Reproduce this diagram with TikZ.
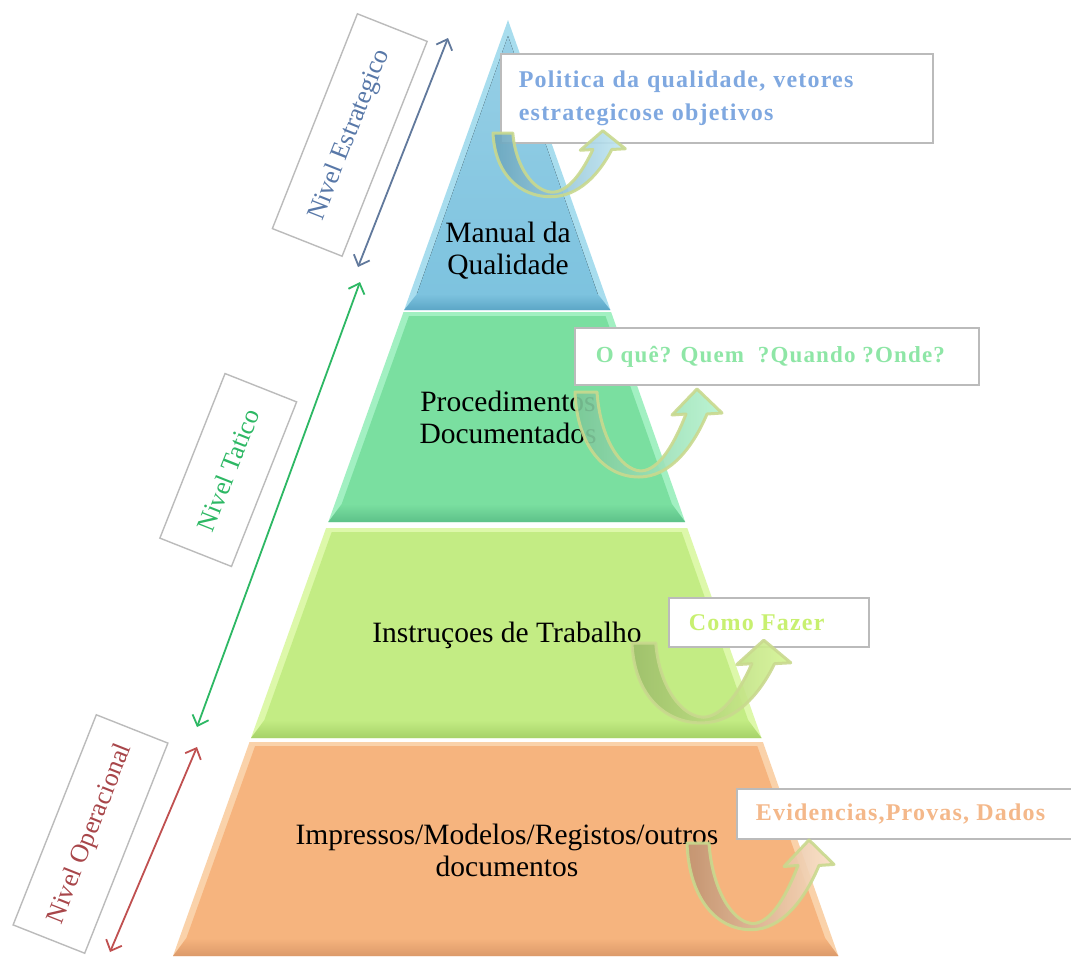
\documentclass[tikz,border=0pt]{standalone}
\usepackage{fontspec}
\setmainfont{Liberation Serif}
\newfontfamily\callfont[LetterSpace=5]{Liberation Serif}
\usetikzlibrary{arrows.meta}

% layer colours: edge highlight, face, bottom bevel
\definecolor{blueedge}{HTML}{A8DDEE}\definecolor{blueface}{HTML}{7DC3DF}\definecolor{bluedark}{HTML}{5CA6C6}
\definecolor{greenedge}{HTML}{A2F0C2}\definecolor{greenface}{HTML}{7ADFA0}\definecolor{greendark}{HTML}{5DC189}
\definecolor{limeedge}{HTML}{DDF8AA}\definecolor{limeface}{HTML}{C3EC84}\definecolor{limedark}{HTML}{A6D268}
\definecolor{orangeedge}{HTML}{FAD2AA}\definecolor{orangeface}{HTML}{F6B47E}\definecolor{orangedark}{HTML}{DC9A6A}
% callout texts
\definecolor{calblue}{HTML}{7FA8E0}\definecolor{calgreen}{HTML}{8EE6A6}
\definecolor{callime}{HTML}{C8F070}\definecolor{calorange}{HTML}{F4B88A}
% level labels
\definecolor{estrcol}{HTML}{5878A8}\definecolor{estrarrow}{HTML}{61799C}
\definecolor{taticol}{HTML}{2DB864}
\definecolor{opercol}{HTML}{A8464A}\definecolor{operarrow}{HTML}{C05050}
\definecolor{boxrim}{HTML}{BBBBBB}\definecolor{arrowrim}{HTML}{C9D98E}

\tikzset{
  layertext/.style={font=\fontsize{29.5}{32}\selectfont, align=center, text=black},
  callout/.style={draw=boxrim, line width=1.8pt, fill=white, anchor=north west,
    inner ysep=0pt, align=left, font=\callfont\bfseries\fontsize{24}{33}\selectfont},
  lvlbox/.style={draw=boxrim, line width=1.4pt, fill=white, rotate=68.4,
    font=\fontsize{26}{30}\selectfont, inner sep=0pt},
  lvlarrow/.style={line width=1.8pt,
    {Straight Barb[length=9pt,width=17pt,line width=1.8pt]}-{Straight Barb[length=9pt,width=17pt,line width=1.8pt]}},
}

% U-shaped arrow: #1,#2 top-left of the left arm, #3,#4 scales, #5 dark, #6 light
\newcommand\curlarrow[6]{%
  \begin{scope}[shift={(#1,#2)}, xscale=#3, yscale=#4]
    \path[draw=arrowrim, line width=3pt, line join=round, left color=#5, right color=#6,
          fill opacity=0.9, draw opacity=0.9]
      (0,0) .. controls (2,55) and (30,85) .. (64,85)
            .. controls (95,85) and (118,55) .. (132,22)
            -- (147,21) -- (122,-3) -- (97,23) -- (111,22)
            .. controls (100,50) and (85,78) .. (66,79)
            .. controls (45,78) and (25,45) .. (22,0) -- cycle;
  \end{scope}}

\begin{document}
\begin{tikzpicture}[x=1pt,y=-1pt]
\useasboundingbox[fill=white] (0,0) rectangle (1071,956);

% ---- pyramid layers ----
% top: Manual da Qualidade
\fill[blueedge] (508,20) -- (610.4,310) -- (404.2,310) -- cycle;
\fill[top color=blueface!80!white, bottom color=blueface] (508,36) -- (597.7,294) -- (416.9,294) -- cycle;
\shade[top color=blueface, bottom color=bluedark] (416.9,294) -- (597.7,294) -- (610.4,310) -- (404.2,310) -- cycle;
% procedures
\fill[greenedge] (403.5,312) -- (611.1,312) -- (685.2,522) -- (328.3,522) -- cycle;
\fill[greenface] (409,316) -- (605.5,316) -- (671.9,504) -- (341.7,504) -- cycle;
\shade[top color=greenface, bottom color=greendark] (341.7,504) -- (671.9,504) -- (685.2,522) -- (328.3,522) -- cycle;
% work instructions
\fill[limeedge] (326.1,528) -- (687.3,528) -- (761.5,738) -- (251,738) -- cycle;
\fill[limeface] (331.7,532) -- (681.7,532) -- (748.1,720) -- (264.4,720) -- cycle;
\shade[top color=limeface, bottom color=limedark] (264.4,720) -- (748.1,720) -- (761.5,738) -- (251,738) -- cycle;
% records
\fill[orangeedge] (249.5,742) -- (762.9,742) -- (838.4,956) -- (173,956) -- cycle;
\fill[orangeface] (255.1,746) -- (757.3,746) -- (825.1,938) -- (186.4,938) -- cycle;
\shade[top color=orangeface, bottom color=orangedark] (186.4,938) -- (825.1,938) -- (838.4,956) -- (173,956) -- cycle;

% ---- layer texts ----
\node[layertext] (manual) at (508,251) {Manual da\\Qualidade};
\node[layertext] (proc) at (508,417) {Procedimentos\\Documentados};
\node[layertext] (instr) at (507,635) {Instruçoes de Trabalho};
\node[layertext] (impr) at (507,850) {Impressos/Modelos/Registos/outros\\documentos};

% ---- callouts ----
\node[callout, text=calblue, minimum width=432pt, minimum height=89pt, text width=396pt, inner xsep=18pt]
  (cpol) at (500,53) {Politica da qualidade, vetores\\estrategicose objetivos};
\node[callout, text=calgreen, minimum height=57pt, inner xsep=21pt]
  (cque) at (574,327) {\makebox[362pt][l]{\fontsize{23}{33}\selectfont O quê? Quem\ \ ?Quando ?Onde?}};
\node[callout, text=callime, minimum height=49pt, inner xsep=20pt]
  (ccomo) at (668,597) {\makebox[160pt][l]{Como Fazer}};
\node[callout, text=calorange, minimum height=50pt, inner xsep=19pt]
  (cevid) at (736,788) {\makebox[307pt][l]{Evidencias,Provas, Dados}};

% ---- U-shaped arrows ----
\curlarrow{493}{133}{0.9}{0.75}{blueface!85!black}{blueedge!70!white}
\curlarrow{575}{392}{1.0}{1.0}{greenface!75!gray}{greenedge!80!white}
\curlarrow{632}{643}{1.08}{0.94}{limeface!80!black}{limeedge!60!callime}
\curlarrow{687}{843}{1.0}{1.02}{orangedark!70!gray}{orangeedge!70!white}

% ---- levels ----
\node[lvlbox, text=estrcol, minimum width=231pt, minimum height=75pt] (nestr) at (349.75,135) {Nivel Estrategico};
\coordinate (estrtop) at (448,38);
\coordinate (estrbot) at (358,267);
\draw[lvlarrow, estrarrow] (estrtop) -- (estrbot);

\node[lvlbox, text=taticol, minimum width=177pt, minimum height=77pt] (ntat) at (228.25,470) {Nivel Tatico};
\coordinate (tattop) at (360,282);
\coordinate (tatbot) at (197,727);
\draw[lvlarrow, taticol] (tattop) -- (tatbot);

\node[lvlbox, text=opercol, minimum width=226pt, minimum height=77pt] (noper) at (90.5,834) {Nivel Operacional};
\coordinate (opertop) at (197,747);
\coordinate (operbot) at (110,952);
\draw[lvlarrow, operarrow] (opertop) -- (operbot);
\end{tikzpicture}
\end{document}
